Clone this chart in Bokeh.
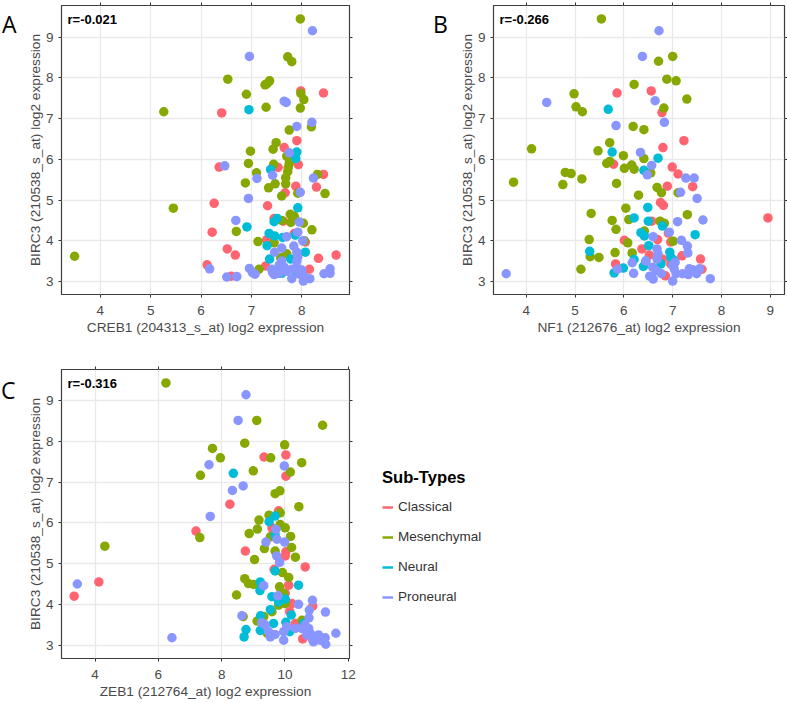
from bokeh.plotting import figure
from bokeh.embed import file_html
from bokeh.resources import INLINE
from bokeh.layouts import column, row
from bokeh.models import Label, Legend, LegendItem, LinearAxis, FixedTicker, Range1d, CustomLabelingPolicy, Div

# ---------- data ----------
SUBTYPES = ["Classical", "Mesenchymal", "Neural", "Proneural"]
COLORS = ["#FF6470", "#86A800", "#00BCD6", "#8A96FF"]

A_xlabel = "CREB1 (204313_s_at) log2 expression"
B_xlabel = "NF1 (212676_at) log2 expression"
C_xlabel = "ZEB1 (212764_at) log2 expression"
ylabel = "BIRC3 (210538_s_at) log2 expression"

A_classical = [(7.98,7.68),(8.43,7.63),(6.41,7.14),(7.90,6.46),(7.65,6.29),(7.93,5.87),(6.36,5.81),(7.53,5.80),(8.43,5.63),(7.88,5.34),(8.29,5.32),(7.67,5.18),(6.26,4.92),(7.32,4.86),(7.45,4.55),(7.63,4.48),(6.22,4.21),(7.30,4.02),(7.85,4.18),(8.07,3.97),(6.52,3.80),(6.68,3.65),(8.33,3.57),(8.68,3.65),(6.12,3.41),(7.28,3.38),(8.15,3.30),(6.60,3.13),(7.60,3.25)]
A_mesenchymal = [(7.97,9.45),(7.72,8.52),(7.80,8.40),(6.53,7.97),(7.36,7.93),(7.31,7.86),(7.27,7.83),(6.90,7.60),(7.98,7.62),(8.04,7.47),(7.97,7.26),(7.29,7.28),(5.26,7.17),(7.75,6.72),(8.19,6.80),(7.49,6.41),(7.43,6.25),(6.98,6.20),(7.70,6.08),(7.75,6.00),(6.94,5.90),(7.44,5.88),(7.75,5.90),(7.73,5.80),(7.72,5.70),(7.10,5.67),(8.31,5.63),(7.68,5.55),(6.88,5.42),(7.47,5.40),(7.68,5.40),(7.34,5.30),(7.92,5.17),(7.60,5.10),(8.46,5.16),(5.45,4.80),(7.77,4.65),(7.85,4.60),(7.78,4.45),(7.60,4.50),(8.03,4.43),(8.20,4.27),(6.70,4.23),(7.13,3.98),(8.05,4.00),(7.45,3.95),(7.70,3.68),(3.49,3.62),(7.58,3.58),(7.15,3.30)]
A_neural = [(6.95,7.22),(7.90,6.18),(7.88,6.02),(7.38,5.75),(7.92,4.81),(7.51,4.55),(7.45,4.47),(6.91,4.34),(7.35,4.18),(7.46,4.12),(7.62,4.08),(7.87,4.14),(7.31,3.88),(8.07,3.72),(7.36,3.55),(7.78,3.55),(7.60,3.20),(7.90,3.22),(7.50,3.20)]
A_proneural = [(8.21,9.16),(6.96,8.53),(7.65,7.43),(7.69,7.40),(8.20,6.91),(7.90,6.81),(7.75,6.16),(6.47,5.84),(7.42,5.61),(8.23,5.54),(7.11,5.53),(7.97,5.19),(6.94,5.04),(6.69,4.50),(7.95,4.46),(7.92,4.21),(7.70,4.10),(8.02,4.00),(7.84,3.87),(7.60,3.82),(7.46,3.72),(7.90,3.72),(7.92,3.60),(7.60,3.50),(7.90,3.50),(6.17,3.31),(6.96,3.32),(7.02,3.22),(7.07,3.18),(6.51,3.11),(6.71,3.12),(8.44,3.19),(8.56,3.31),(8.56,3.20),(7.40,3.30),(7.45,3.17),(7.55,3.40),(7.65,3.35),(7.70,3.25),(7.42,3.22),(7.80,3.07),(8.03,3.01),(8.16,3.07),(7.90,3.35),(8.00,3.28),(7.95,3.18),(8.05,3.12),(7.55,3.20),(7.60,3.28),(7.80,3.30)]

B_classical = [(5.86,7.63),(6.56,7.68),(6.78,7.15),(7.23,6.46),(6.80,6.29),(5.79,5.88),(6.99,5.81),(7.11,5.64),(6.89,5.34),(7.41,5.33),(6.75,4.94),(6.81,4.87),(6.57,4.48),(8.95,4.56),(6.91,4.19),(6.01,4.01),(6.69,4.03),(6.37,3.80),(6.96,3.97),(7.19,3.63),(6.52,3.65),(7.57,3.55),(6.79,3.55),(5.83,3.43),(7.60,3.30),(6.85,3.14),(6.96,3.43)]
B_mesenchymal = [(5.54,9.45),(7.00,8.53),(6.71,8.41),(6.88,7.97),(7.07,7.93),(6.21,7.84),(4.98,7.61),(7.29,7.48),(5.02,7.29),(5.15,7.17),(6.82,7.26),(6.19,6.81),(6.41,6.73),(5.71,6.41),(4.11,6.26),(5.47,6.21),(5.99,6.09),(6.41,6.02),(5.71,5.95),(5.65,5.90),(6.16,5.86),(6.01,5.78),(6.21,5.76),(4.80,5.68),(4.92,5.65),(6.55,5.67),(5.14,5.52),(5.85,5.41),(3.74,5.44),(4.75,5.38),(6.68,5.31),(6.77,5.18),(7.11,5.18),(6.30,5.12),(6.04,4.80),(5.33,4.67),(7.30,4.64),(6.10,4.52),(5.76,4.50),(6.74,4.48),(6.83,4.43),(5.84,4.28),(6.42,4.24),(5.29,4.03),(6.08,3.95),(7.01,3.99),(5.82,3.71),(6.17,3.70),(5.31,3.61),(5.49,3.59),(5.12,3.30)]
B_neural = [(5.68,7.23),(5.76,6.18),(6.70,6.03),(6.41,5.73),(6.49,4.82),(6.21,4.56),(6.50,4.48),(6.79,4.36),(7.46,4.15),(6.35,4.20),(6.42,4.12),(6.51,3.88),(5.30,3.74),(6.94,3.72),(6.21,3.54),(7.03,3.52),(5.99,3.33),(6.40,3.37),(5.80,3.21),(6.76,3.43),(6.45,3.50),(6.96,3.60)]
B_proneural = [(6.72,9.16),(6.38,8.53),(6.64,7.44),(4.42,7.40),(5.84,6.83),(6.83,6.91),(6.34,6.17),(6.57,5.85),(6.48,5.62),(7.27,5.54),(7.44,5.54),(7.16,5.19),(7.50,5.04),(7.62,4.51),(7.10,4.47),(6.93,4.21),(6.60,4.10),(7.18,4.01),(7.30,3.87),(7.31,3.70),(6.68,3.80),(6.70,3.68),(6.68,3.55),(6.45,3.50),(6.17,3.46),(5.87,3.30),(6.20,3.20),(3.59,3.19),(7.77,3.07),(6.53,3.13),(6.60,3.06),(7.00,3.01),(6.59,3.35),(6.66,3.27),(6.77,3.19),(7.00,3.40),(7.03,3.31),(7.07,3.19),(7.20,3.19),(7.34,3.31),(7.32,3.17),(7.49,3.19),(7.55,3.31),(7.41,3.29),(7.05,3.47)]

C_classical = [(10.03,7.67),(9.34,7.62),(10.03,7.15),(8.26,6.46),(9.80,6.30),(7.19,5.80),(9.59,5.88),(8.75,5.31),(10.03,5.29),(10.01,5.19),(10.64,4.92),(9.66,4.86),(4.12,4.55),(10.12,4.47),(3.34,4.20),(10.22,4.02),(10.88,3.96),(10.15,3.82),(10.01,4.27),(10.33,3.53),(10.56,3.15),(10.15,3.41),(10.54,3.41)]
C_mesenchymal = [(6.24,9.44),(9.11,8.52),(11.19,8.40),(8.73,7.96),(9.99,7.92),(7.71,7.83),(7.96,7.60),(9.55,7.60),(10.53,7.48),(9.00,7.28),(10.17,7.25),(7.33,7.17),(9.84,6.79),(9.69,6.72),(10.44,6.40),(9.85,6.25),(9.50,6.19),(9.18,6.07),(9.85,5.96),(10.01,5.88),(9.13,5.85),(8.87,5.74),(7.31,5.64),(9.54,5.66),(10.18,5.67),(4.31,5.43),(10.21,5.40),(9.35,5.37),(9.69,5.31),(10.33,5.16),(9.04,5.10),(9.92,4.78),(10.12,4.66),(8.73,4.63),(8.85,4.51),(9.01,4.49),(9.83,4.43),(9.96,4.27),(8.47,4.23),(9.80,3.98),(10.01,4.02),(8.68,3.70),(9.33,3.70),(9.12,3.59),(10.54,3.61),(9.44,3.29),(9.59,3.82)]
C_neural = [(8.37,7.22),(9.69,6.17),(9.50,6.03),(9.69,5.70),(9.69,4.82),(10.43,4.47),(9.22,4.55),(9.21,4.34),(9.59,4.19),(10.01,4.13),(9.80,4.06),(9.54,3.87),(10.20,3.74),(9.23,3.72),(9.64,3.53),(10.03,3.56),(9.22,3.36),(8.77,3.38),(8.71,3.20),(10.15,3.33),(10.59,3.53)]
C_proneural = [(8.77,9.15),(8.52,8.52),(7.60,7.43),(9.98,7.40),(8.68,6.91),(8.34,6.80),(7.64,6.16),(9.72,5.84),(9.75,5.60),(9.99,5.53),(9.40,5.53),(9.74,5.19),(9.83,5.03),(3.44,4.50),(9.33,4.46),(9.78,4.21),(10.43,4.00),(10.87,4.10),(11.28,3.81),(10.77,3.86),(10.76,3.67),(8.64,3.72),(9.27,3.55),(11.61,3.29),(6.43,3.18),(9.38,3.49),(9.48,3.33),(9.54,3.20),(9.69,3.26),(9.96,3.12),(9.96,3.33),(10.06,3.45),(10.33,3.41),(10.54,3.41),(10.75,3.41),(10.69,3.25),(10.85,3.16),(10.90,3.08),(11.06,3.25),(11.27,3.18),(11.29,3.02),(11.12,3.12),(10.80,3.29),(10.64,3.49),(10.96,3.12)]

FONT = "Liberation Sans"
TICK_COLOR = "#4A4A4A"
LABEL_COLOR = "#4A4A4A"
TICK_LINE = "#333333"


def panel(series, xr, yr, xticks, xlabel, rtext, frame_w, frame_h, bl, br, bt, bb):
    p = figure(frame_width=frame_w, frame_height=frame_h,
               x_range=Range1d(*xr), y_range=Range1d(*yr),
               min_border_left=bl, min_border_right=br, min_border_top=bt, min_border_bottom=bb,
               output_backend="svg", toolbar_location=None, background_fill_color="white",
               x_axis_label=xlabel, y_axis_label=ylabel)
    yticks = [3, 4, 5, 6, 7, 8, 9]
    p.xaxis.ticker = FixedTicker(ticks=xticks)
    p.yaxis.ticker = FixedTicker(ticks=yticks)
    for ax in (p.xaxis[0], p.yaxis[0]):
        ax.axis_line_color = None
        ax.major_tick_line_color = TICK_LINE
        ax.major_tick_in = 0
        ax.major_tick_out = 3
        ax.minor_tick_line_color = None
        ax.major_label_text_font = FONT
        ax.major_label_text_font_size = "13.5px"
        ax.major_label_text_color = TICK_COLOR
        ax.axis_label_text_font = FONT
        ax.axis_label_text_font_size = "13.7px"
        ax.axis_label_text_font_style = "normal"
        ax.axis_label_text_color = LABEL_COLOR
    p.xaxis.major_label_standoff = 8
    p.xaxis.axis_label_standoff = 2
    p.yaxis.major_label_standoff = 5
    p.yaxis.axis_label_standoff = 0
    p.yaxis.major_label_orientation = 0

    # top and right ticks carry no labels
    for ticks, side in ((xticks, "above"), (yticks, "right")):
        ax = LinearAxis(ticker=FixedTicker(ticks=ticks), major_label_text_font_size="1px",
                        major_label_standoff=0,
                        major_label_policy=CustomLabelingPolicy(code="return false"),
                        axis_line_color=None, minor_tick_line_color=None,
                        major_tick_line_color=TICK_LINE, major_tick_in=0, major_tick_out=3)
        p.add_layout(ax, side)

    p.xgrid.ticker = FixedTicker(ticks=xticks)
    p.ygrid.ticker = FixedTicker(ticks=yticks)
    p.grid.grid_line_color = "#E9E9E9"
    p.grid.grid_line_width = 1.3
    p.outline_line_color = "#3C3C3C"
    p.outline_line_width = 1.2

    for pts, col in zip(series, COLORS):
        p.scatter([a for a, _ in pts], [b for _, b in pts], size=9.5,
                  fill_color=col, line_color=None)

    p.add_layout(Label(x=6, y=frame_h - 21, x_units="screen", y_units="screen", text=rtext,
                       text_font=FONT, text_font_style="bold", text_font_size="13px",
                       text_color="black"))
    return p


pA = panel([A_classical, A_mesenchymal, A_neural, A_proneural], (3.23, 8.946), (2.68, 9.78),
           [4, 5, 6, 7, 8], A_xlabel, "r=-0.021", 288, 289, 61, 44, 3, 51)
pB = panel([B_classical, B_mesenchymal, B_neural, B_proneural], (3.33, 9.29), (2.68, 9.78),
           [4, 5, 6, 7, 8, 9], B_xlabel, "r=-0.266", 291, 289, 100, 3, 3, 51)
pC = panel([C_classical, C_mesenchymal, C_neural, C_proneural], (2.94, 12.04), (2.67, 9.77),
           [4, 6, 8, 10, 12], C_xlabel, "r=-0.316", 288, 289, 61, 22, 24, 32)

leg = figure(frame_width=230, frame_height=289, output_backend="svg", toolbar_location=None,
             x_axis_location=None, y_axis_location=None,
             min_border_top=24, min_border_left=0, min_border_right=0, min_border_bottom=32,
             x_range=Range1d(5, 6), y_range=Range1d(5, 6))
leg.grid.visible = False
leg.outline_line_color = None
items = []
for name, col in zip(SUBTYPES, COLORS):
    r = leg.line([0, 1], [0, 0], line_color=col, line_width=2.5)
    items.append(LegendItem(label=name, renderers=[r]))
legend = Legend(items=items, title="Sub-Types", location=(11, 54), margin=0, padding=0,
                border_line_color=None, background_fill_alpha=0,
                title_text_font=FONT, title_text_font_style="bold", title_text_font_size="16.6px",
                title_text_color="black", title_standoff=11,
                label_text_font=FONT, label_text_font_size="13.5px", label_text_color="#333333",
                glyph_width=11, glyph_height=14, label_standoff=5, spacing=15, label_height=14)
leg.add_layout(legend)


def letter(text, x, y):
    return Div(text=text, width=0, height=0, margin=0,
               styles={"transform": f"translate({x}px,{y}px)", "font-family": "Open Sans", "z-index": "10",
                       "font-size": "23px", "color": "black", "overflow": "visible", "white-space": "nowrap"})


root = column(letter("A", 2, 10), letter("B", 433, 10), letter("C", 1, 376),
              row(pA, pB, spacing=0), row(pC, leg, spacing=0), spacing=0,
              styles={"margin-top": "-2px"})

open("out.html", "w").write(file_html(root, INLINE))
